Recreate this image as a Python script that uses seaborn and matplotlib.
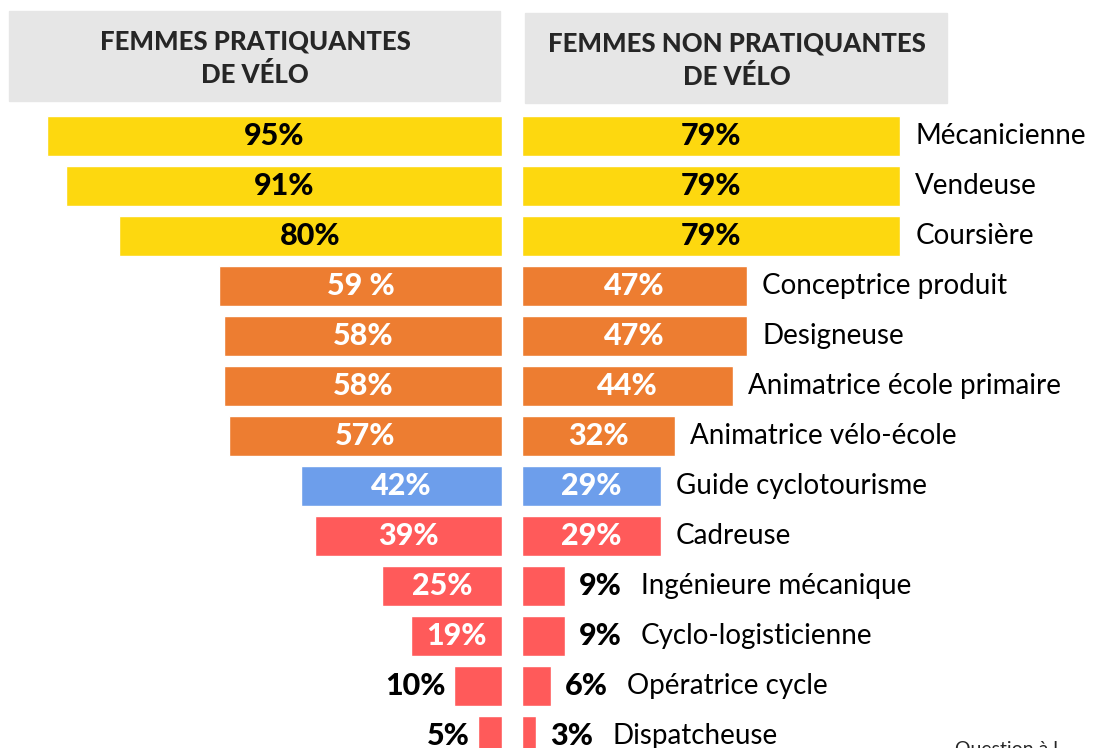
import matplotlib
matplotlib.use("Agg")
import matplotlib.pyplot as plt
import seaborn as sns
import pandas as pd
from matplotlib.patches import Rectangle

# ---------------- data ----------------
metiers = ["Mécanicienne", "Vendeuse", "Coursière", "Conceptrice produit", "Designeuse",
           "Animatrice école primaire", "Animatrice vélo-école", "Guide cyclotourisme",
           "Cadreuse", "Ingénieure mécanique", "Cyclo-logisticienne", "Opératrice cycle",
           "Dispatcheuse"]
pratiquantes = [95, 91, 80, 59, 58, 58, 57, 42, 39, 25, 19, 10, 5]
non_pratiquantes = [79, 79, 79, 47, 47, 44, 32, 29, 29, 9, 9, 6, 3]
labels_pratiquantes = ["95%", "91%", "80%", "59 %", "58%", "58%", "57%", "42%", "39%",
                       "25%", "19%", "10%", "5%"]
labels_non = ["79%", "79%", "79%", "47%", "47%", "44%", "32%", "29%", "29%",
              "9%", "9%", "6%", "3%"]
groupes = ["jaune"] * 3 + ["orange"] * 4 + ["bleu"] + ["rouge"] * 5
titre_gauche = "FEMMES PRATIQUANTES\nDE VÉLO"
titre_droite = "FEMMES NON PRATIQUANTES\nDE VÉLO"
note = "Question à l"

couleurs = {"jaune": "#FDD80F", "orange": "#ED7D31", "bleu": "#6D9EEB", "rouge": "#FF5A5A"}

df = pd.DataFrame({"metier": metiers, "prat": pratiquantes, "non": non_pratiquantes,
                   "groupe": groupes})
pal = {m: couleurs[g] for m, g in zip(metiers, groupes)}

sns.set_theme(style="white")
plt.rcParams["font.family"] = ["Lato", "DejaVu Sans"]

W, H = 1093, 748
fig = plt.figure(figsize=(W / 100, H / 100), dpi=100)

scale = 4.79  # px per percent
top_px = 110
y_top = -0.523
y_bot = 12.24

axL = fig.add_axes([0, 0, 502 / W, (H - top_px) / H])
axR = fig.add_axes([522 / W, 0, (W - 522) / W, (H - top_px) / H])

sns.barplot(data=df, y="metier", x="prat", hue="metier", palette=pal, legend=False,
            orient="h", width=0.8, ax=axL, saturation=1)
sns.barplot(data=df, y="metier", x="non", hue="metier", palette=pal, legend=False,
            orient="h", width=0.8, ax=axR, saturation=1)

axL.set_xlim(502 / scale, 0)
axR.set_xlim(0, (W - 522) / scale)
for ax in (axL, axR):
    ax.set_ylim(y_bot, y_top)
    ax.axis("off")

vfs = 22
vw = "black"
# left value labels
for i, (v, lab, g) in enumerate(zip(pratiquantes, labels_pratiquantes, groupes)):
    if v >= 15:
        col = "black" if g == "jaune" else "white"
        axL.text(v / 2, i, lab, ha="center", va="center", fontsize=vfs,
                 fontweight=vw, color=col)
    else:
        axL.annotate(lab, (v, i), xytext=(-8, 0), textcoords="offset pixels",
                     ha="right", va="center", fontsize=vfs, fontweight=vw,
                     color="black")

# right value labels + categories
cfs = 20
for i, (v, lab, g, m) in enumerate(zip(non_pratiquantes, labels_non, groupes, metiers)):
    if v >= 15:
        col = "black" if g == "jaune" else "white"
        axR.text(v / 2, i, lab, ha="center", va="center", fontsize=vfs,
                 fontweight=vw, color=col)
        axR.annotate(m, (v, i), xytext=(15, 0), textcoords="offset pixels",
                     ha="left", va="center", fontsize=cfs, color="black",
                     annotation_clip=False)
    else:
        axR.annotate(lab, (v, i), xytext=(14, 0), textcoords="offset pixels",
                     ha="left", va="center", fontsize=vfs, fontweight=vw,
                     color="black", annotation_clip=False)
        axR.annotate(m, (v, i), xytext=(76, 0), textcoords="offset pixels",
                     ha="left", va="center", fontsize=cfs, color="black",
                     annotation_clip=False)

# header boxes
fig.patches.append(Rectangle((9 / W, 1 - 101 / H), (500 - 9) / W, 90 / H,
                             transform=fig.transFigure, color="#E6E6E6", zorder=0))
fig.patches.append(Rectangle((525 / W, 1 - 103 / H), (947 - 525) / W, 90 / H,
                             transform=fig.transFigure, color="#E6E6E6", zorder=0))
fig.text(255 / W, 1 - 58 / H, titre_gauche, ha="center", va="center", fontsize=18.5,
         fontweight="black", linespacing=1.4)
fig.text(737 / W, 1 - 60 / H, titre_droite, ha="center", va="center", fontsize=18.5,
         fontweight="black", linespacing=1.4)
fig.text(955 / W, 1 - 741 / H, note, ha="left", va="top", fontsize=14)

fig.savefig("out.png", dpi=100)
